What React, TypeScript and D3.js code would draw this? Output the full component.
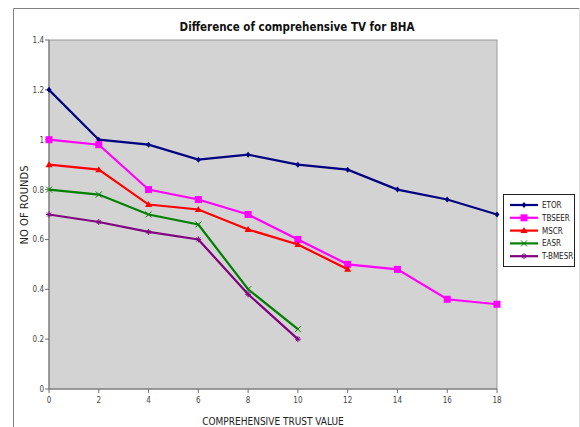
import React from "react";
import * as d3 from "d3";

const xTicks = [0, 2, 4, 6, 8, 10, 12, 14, 16, 18];
const yTicks = [0, 0.2, 0.4, 0.6, 0.8, 1, 1.2, 1.4];
const seriesNames = ["ETOR", "TBSEER", "MSCR", "EASR", "T-BMESR"];
const seriesColors = ["#000080", "#ff00ff", "#ff0000", "#008000", "#800080"];
const etor = [1.2, 1.0, 0.98, 0.92, 0.94, 0.9, 0.88, 0.8, 0.76, 0.7];
const tbseer = [1.0, 0.98, 0.8, 0.76, 0.7, 0.6, 0.5, 0.48, 0.36, 0.34];
const mscr = [0.9, 0.88, 0.74, 0.72, 0.64, 0.58, 0.48];
const easr = [0.8, 0.78, 0.7, 0.66, 0.4, 0.24];
const tbmesr = [0.7, 0.67, 0.63, 0.6, 0.38, 0.2];
const seriesValues = [etor, tbseer, mscr, easr, tbmesr];

const W = 580, H = 427;
const left = 49, right = 497, top = 40, bottom = 389;
const cond = "'DejaVu Sans Condensed', 'Liberation Sans Narrow', 'DejaVu Sans', sans-serif";

function Marker({ kind, x, y, color }: { kind: number; x: number; y: number; color: string }) {
  if (kind === 0) {
    return <path d={`M${x},${y - 3}L${x + 2.5},${y}L${x},${y + 3}L${x - 2.5},${y}Z`} fill={color} />;
  }
  if (kind === 1) {
    return <rect x={x - 3.5} y={y - 3.5} width={7} height={7} fill={color} />;
  }
  if (kind === 2) {
    return <path d={`M${x},${y - 3.5}L${x + 3.5},${y + 2.5}L${x - 3.5},${y + 2.5}Z`} fill={color} />;
  }
  if (kind === 3) {
    return <path d={`M${x - 3},${y - 3}L${x + 3},${y + 3}M${x + 3},${y - 3}L${x - 3},${y + 3}`} stroke={color} strokeWidth={1} />;
  }
  return <path d={`M${x - 3},${y}L${x + 3},${y}M${x},${y - 3}L${x},${y + 3}M${x - 2},${y - 2}L${x + 2},${y + 2}M${x + 2},${y - 2}L${x - 2},${y + 2}`} stroke={color} strokeWidth={1} />;
}

export default function App() {
  const x = d3.scaleLinear().domain([0, 18]).range([left, right]);
  const y = d3.scaleLinear().domain([0, 1.4]).range([bottom, top]);
  const line = d3.line<number>().x((_, i) => x(xTicks[i])).y((d) => y(d));

  return (
    <svg width={W} height={H} style={{ position: "absolute", left: 0, top: 0 }}>
      <rect x={0} y={0} width={W} height={H} fill="#fff" />
      <path d={`M13.5,${H}L13.5,8.5L${W},8.5`} fill="none" stroke="#808080" strokeWidth={1} />
      <line x1={579.5} y1={8} x2={579.5} y2={H} stroke="#e0e0e0" />
      <text x={297} y={31} textAnchor="middle" fontFamily={cond} fontWeight="bold" fontSize={11.5} fill="#111">
        Difference of comprehensive TV for BHA
      </text>
      <rect x={left} y={top} width={right - left} height={bottom - top} fill="#d3d3d3" stroke="#9a9a9a" strokeWidth={1} />
      <line x1={left} y1={top} x2={left} y2={bottom} stroke="#707070" />
      <line x1={left} y1={bottom} x2={right} y2={bottom} stroke="#707070" />
      {yTicks.map((t) => (
        <g key={"y" + t}>
          <line x1={left - 4} x2={left} y1={y(t)} y2={y(t)} stroke="#707070" />
          <text x={left - 5} y={y(t) + 3} textAnchor="end" fontFamily={cond} fontSize={8} fill="#444">
            {String(t)}
          </text>
        </g>
      ))}
      {xTicks.map((t) => (
        <g key={"x" + t}>
          <line x1={x(t)} x2={x(t)} y1={bottom} y2={bottom + 4} stroke="#707070" />
          <text x={x(t)} y={bottom + 14} textAnchor="middle" fontFamily={cond} fontSize={8} fill="#444">
            {String(t)}
          </text>
        </g>
      ))}
      <text x={273} y={425} textAnchor="middle" fontFamily={cond} fontSize={10} fill="#222">
        COMPREHENSIVE TRUST VALUE
      </text>
      <text transform="translate(27.5,205) rotate(-90)" textAnchor="middle" fontFamily="'DejaVu Sans', Verdana, sans-serif" fontSize={10} fill="#222">
        NO OF ROUNDS
      </text>
      {seriesValues.map((vals, si) => (
        <g key={seriesNames[si]}>
          <path d={line(vals) || ""} fill="none" stroke={seriesColors[si]} strokeWidth={2.2} />
          {vals.map((v, i) => (
            <Marker key={i} kind={si} x={x(xTicks[i])} y={y(v)} color={seriesColors[si]} />
          ))}
        </g>
      ))}
      <rect x={503.5} y={194.5} width={71} height={72} fill="#fff" stroke="#222" strokeWidth={1} />
      {seriesNames.map((n, i) => {
        const ly = 205 + i * 12.8;
        return (
          <g key={n}>
            <line x1={510} x2={538} y1={ly} y2={ly} stroke={seriesColors[i]} strokeWidth={2.2} />
            <Marker kind={i} x={524} y={ly} color={seriesColors[i]} />
            <text x={542} y={ly + 3} fontFamily={cond} fontSize={8} fill="#222">
              {n}
            </text>
          </g>
        );
      })}
    </svg>
  );
}
